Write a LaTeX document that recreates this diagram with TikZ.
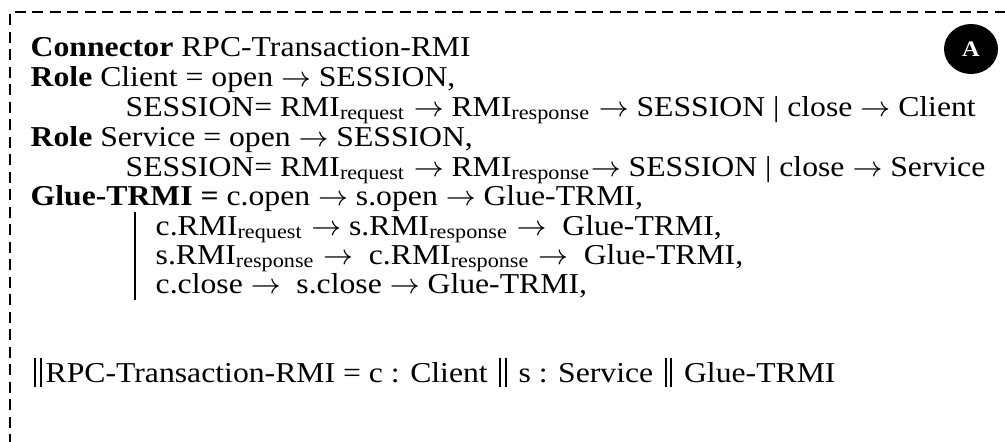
\documentclass[tikz,border=0pt]{standalone}
\usepackage{fontspec}
\setmainfont{Liberation Serif}[FakeStretch=1.1]
\usetikzlibrary{positioning,shapes.geometric}

\tikzset{
  spec/.style={anchor=base west, inner sep=0pt, font=\fontsize{8.2}{9}\selectfont},
  badge/.style={ellipse, fill=black, text=white, inner sep=0pt,
    minimum width=0.54cm, minimum height=0.5cm, font=\fontsize{6.3}{7}\selectfont\bfseries},
  frame/.style={line width=0.45pt, dash pattern=on 0.11cm off 0.065cm}
}
\newcommand{\ra}{$\rightarrow$}
\newcommand{\dbar}{\hspace{0.12em}\rule[-0.18em]{0.07em}{1.02em}\hspace{0.12em}\rule[-0.18em]{0.07em}{1.02em}\hspace{0.14em}}

\begin{document}
\begin{tikzpicture}
\useasboundingbox (0,0) rectangle (10.05,-4.41);

% dashed frame, only top and left are visible
\coordinate (ftl) at (0.1,-0.12);
\coordinate (fbl) at (0.1,-4.45);
\coordinate (ftr) at (10.1,-0.12);
\draw[frame] (fbl) -- (ftl) -- (ftr);

\node[badge] (tag) at (9.71,-0.49) {A};

\node[spec] (l1) at (0.3,-0.56) {\textbf{Connector} RPC-Transaction-RMI};
\node[spec] (l2) at (0.3,-0.86) {\textbf{Role} Client = open \ra{} SESSION,};
\node[spec] (l3) at (1.25,-1.16) {SESSION= RMI\textsubscript{request} \ra{} RMI\textsubscript{response} \ra{} SESSION | close \ra{} Client};
\node[spec] (l4) at (0.3,-1.46) {\textbf{Role} Service = open \ra{} SESSION,};
\node[spec] (l5) at (1.25,-1.76) {SESSION= RMI\textsubscript{request} \ra{} RMI\textsubscript{response}\ra{} SESSION | close \ra{} Service};
\node[spec] (l6) at (0.3,-2.05) {\textbf{Glue-TRMI =} c.open \ra{} s.open \ra{} Glue-TRMI,};
\node[spec] (l7) at (1.55,-2.35) {c.RMI\textsubscript{request} \ra{} s.RMI\textsubscript{response} \ra~ Glue-TRMI,};
\node[spec] (l8) at (1.55,-2.64) {s.RMI\textsubscript{response} \ra~ c.RMI\textsubscript{response} \ra~ Glue-TRMI,};
\node[spec] (l9) at (1.55,-2.93) {c.close \ra~ s.close \ra{} Glue-TRMI,};
\node[spec] (l10) at (0.3,-3.82) {\dbar RPC-Transaction-RMI = c : Client \dbar{} s : Service \dbar{} Glue-TRMI};

% choice bar
\coordinate (bar1) at (1.35,-2.12);
\coordinate (bar2) at (1.35,-3.0);
\draw[line width=0.7pt] (bar1) -- (bar2);
\end{tikzpicture}
\end{document}
